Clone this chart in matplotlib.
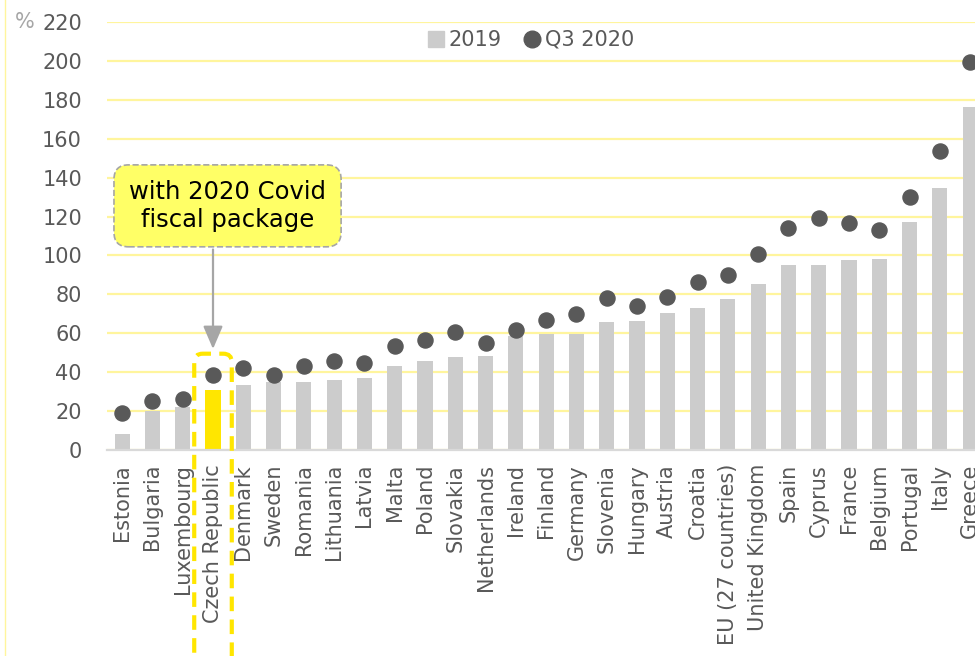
import matplotlib
matplotlib.use("Agg")
import matplotlib.pyplot as plt
from matplotlib.patches import FancyBboxPatch
from matplotlib.lines import Line2D
import numpy as np

# government debt, % of GDP
countries = ["Estonia", "Bulgaria", "Luxembourg", "Czech Republic", "Denmark",
             "Sweden", "Romania", "Lithuania", "Latvia", "Malta", "Poland",
             "Slovakia", "Netherlands", "Ireland", "Finland", "Germany",
             "Slovenia", "Hungary", "Austria", "Croatia", "EU (27 countries)",
             "United Kingdom", "Spain", "Cyprus", "France", "Belgium",
             "Portugal", "Italy", "Greece"]
debt_2019 = [8.4, 20.2, 22.2, 30.8, 33.2, 35.0, 35.1, 36.2, 36.8, 43.0, 45.8,
             47.9, 48.4, 58.6, 59.4, 59.6, 66.0, 66.1, 70.4, 73.0, 77.6,
             85.2, 95.2, 95.1, 97.7, 98.2, 117.4, 134.6, 176.5]
debt_q3_2020 = [18.9, 25.3, 26.2, 38.3, 42.4, 38.3, 43.1, 45.9, 44.5, 53.6,
                56.7, 60.7, 55.1, 61.8, 66.8, 69.9, 78.1, 74.0, 78.8, 86.3,
                89.7, 101.0, 113.9, 119.1, 116.5, 113.2, 130.3, 153.8, 199.5]
highlight = "Czech Republic"

TEXT = "#595959"
GRID = "#FFF59D"

plt.rcParams["font.family"] = ["DejaVu Sans"]

fig = plt.figure(figsize=(9.75, 6.56), dpi=100)
ax = fig.add_axes([107 / 975, 206 / 656, 1 - 107 / 975, 428 / 656])

x = np.arange(len(countries))
bar_colors = ["#FFE600" if c == highlight else "#CCCCCC" for c in countries]
ax.bar(x, debt_2019, width=0.5, color=bar_colors, zorder=2)
ax.scatter(x, debt_q3_2020, s=118, color=TEXT, zorder=3, clip_on=False)

ax.set_xlim(-0.5, 28.16)
ax.set_ylim(0, 220)
ax.set_yticks(np.arange(0, 221, 20))
ax.yaxis.grid(True, color=GRID, linewidth=1.6, zorder=0)
ax.set_axisbelow(True)
for side in ["top", "right", "left"]:
    ax.spines[side].set_visible(False)
ax.spines["bottom"].set_color("#D9D9D9")
ax.spines["bottom"].set_linewidth(1.6)
ax.spines["bottom"].set_zorder(2.5)

ax.set_xticks(x)
ax.set_xticklabels(countries, rotation=90, fontsize=15, color=TEXT)
ax.tick_params(axis="x", length=0, pad=10)
ax.tick_params(axis="y", length=0, pad=18, labelsize=15, labelcolor=TEXT)

fig.text(15 / 975, 1 - 22 / 656, "%", fontsize=15, color="#A6A6A6",
         ha="left", va="center")

# legend
handles = [Line2D([], [], marker="s", linestyle="none", markersize=11,
                  color="#CCCCCC", label="2019"),
           Line2D([], [], marker="o", linestyle="none", markersize=12,
                  color=TEXT, label="Q3 2020")]
leg = ax.legend(handles=handles, loc="center", bbox_to_anchor=(0.487, 0.958),
                ncol=2, frameon=False, fontsize=15, handletextpad=0.1,
                columnspacing=1.0, handlelength=1.0)
for t in leg.get_texts():
    t.set_color(TEXT)

# dashed frame round the highlighted country
i = countries.index(highlight)
frame = FancyBboxPatch((i - 0.62, -112), 1.24, 112 + 49.5,
                       boxstyle="round,pad=0,rounding_size=0.28",
                       mutation_aspect=15.6, fill=False, edgecolor="#FFE600",
                       linewidth=3, linestyle=(0, (3.5, 2)), clip_on=False,
                       zorder=4)
ax.add_patch(frame)

# callout
ax.annotate("", xy=(i, 50.5), xytext=(i, 104.5),
            arrowprops=dict(arrowstyle="-|>,head_length=1.4,head_width=0.6",
                            color="#A6A6A6", linewidth=1.6))
ax.text(i + 0.48, 125.5, "with 2020 Covid\nfiscal package", fontsize=17.5,
        color="black", ha="center", va="center", linespacing=1.2,
        bbox=dict(boxstyle="round,pad=0.62,rounding_size=0.6",
                  facecolor="#FFFF66", edgecolor="#A6A6A6",
                  linestyle="--", linewidth=1.2))

fig.add_artist(Line2D([5 / 975, 5 / 975], [0, 1], color=GRID, linewidth=1))

fig.savefig("out.png", dpi=100)
